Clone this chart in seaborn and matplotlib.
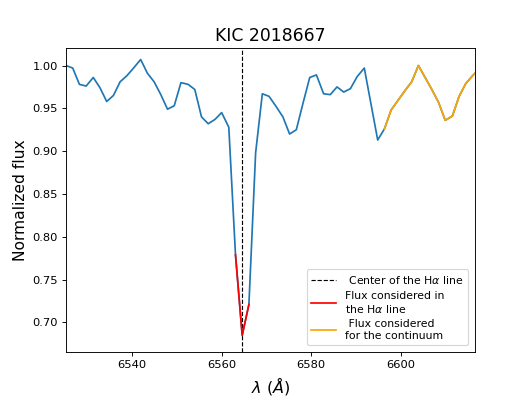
import numpy as np
import pandas as pd
import matplotlib
matplotlib.use("Agg")
import matplotlib.pyplot as plt
import seaborn as sns

# Wavelength grid (Angstrom) and normalized flux
wavelength = [
    6525.2, 6526.7, 6528.2, 6529.7, 6531.3, 6532.8, 6534.3, 6535.8, 6537.3, 6538.8,
    6540.3, 6541.9, 6543.4, 6544.9, 6546.4, 6547.9, 6549.4, 6550.9, 6552.5, 6554.0,
    6555.5, 6557.0, 6558.5, 6560.0, 6561.6, 6563.1, 6564.6, 6566.1, 6567.6, 6569.1,
    6570.6, 6572.2, 6573.7, 6575.2, 6576.7, 6578.2, 6579.7, 6581.2, 6582.8, 6584.3,
    6585.8, 6587.3, 6588.8, 6590.3, 6591.9, 6593.4, 6594.9, 6596.4, 6597.9, 6599.4,
    6600.9, 6602.5, 6604.0, 6605.5, 6607.0, 6608.5, 6610.0, 6611.6, 6613.1, 6614.6,
    6616.1, 6617.6,
]
flux = [
    1.000, 0.997, 0.978, 0.976, 0.986, 0.974, 0.958, 0.965, 0.981, 0.988,
    0.997, 1.007, 0.991, 0.981, 0.966, 0.949, 0.953, 0.980, 0.978, 0.972,
    0.940, 0.932, 0.937, 0.945, 0.928, 0.779, 0.685, 0.721, 0.898, 0.967,
    0.964, 0.952, 0.940, 0.920, 0.925, 0.956, 0.986, 0.989, 0.967, 0.966,
    0.975, 0.969, 0.973, 0.987, 0.997, 0.955, 0.913, 0.926, 0.948, 0.959,
    0.970, 0.981, 1.000, 0.986, 0.972, 0.957, 0.936, 0.941, 0.964, 0.979,
    0.988, 0.996,
]
halpha_center = 6564.6
line_range = (6563.0, 6566.2)        # flux considered in the H-alpha line
continuum_range = (6596.0, 6620.0)   # flux considered for the continuum

title = "KIC 2018667"
xticks = [6540, 6560, 6580, 6600]
yticks = [0.70, 0.75, 0.80, 0.85, 0.90, 0.95, 1.00]

df = pd.DataFrame({"wl": wavelength, "flux": flux})
df_line = df[(df.wl >= line_range[0]) & (df.wl <= line_range[1])]
df_cont = df[(df.wl >= continuum_range[0]) & (df.wl <= continuum_range[1])]

fig, ax = plt.subplots(figsize=(6.4, 4.8), dpi=82.5)

sns.lineplot(data=df, x="wl", y="flux", ax=ax, color="#1f77b4", lw=1.5,
             sort=False, estimator=None)
ax.axvline(halpha_center, color="black", ls="--", lw=1.0,
           label=r" Center of the H$\alpha$ line")
sns.lineplot(data=df_line, x="wl", y="flux", ax=ax, color="red", lw=1.5,
             sort=False, estimator=None, label="Flux considered in\nthe H$\\alpha$ line")
sns.lineplot(data=df_cont, x="wl", y="flux", ax=ax, color="orange", lw=1.5,
             sort=False, estimator=None, label=" Flux considered\nfor the continuum")

ax.set_xlim(6525.2, 6616.7)
ax.set_ylim(0.665, 1.021)
ax.set_xticks(xticks)
ax.set_yticks(yticks)
ax.set_yticklabels([f"{v:.2f}" for v in yticks])
ax.tick_params(labelsize=10)
ax.set_title(title, fontsize=15)
ax.set_xlabel(r"$\lambda\ (\AA)$", fontsize=14)
ax.set_ylabel("Normalized flux", fontsize=13.5)
ax.legend(loc="lower right", fontsize=9.5, labelspacing=0.45,
          handlelength=2.3, borderaxespad=0.65)

fig.savefig("out.png", dpi=82.5)
